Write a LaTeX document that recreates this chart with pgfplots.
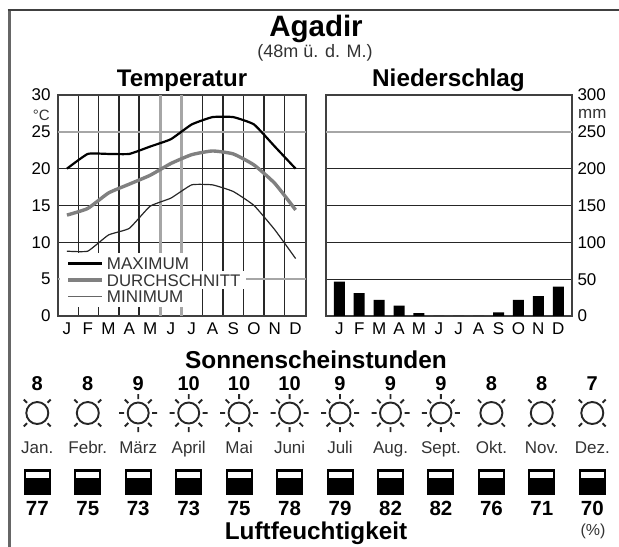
\documentclass[border=0pt]{standalone}
\usepackage{fontspec}
\setmainfont{Liberation Sans}
\usepackage{pgfplots}
\pgfplotsset{compat=1.18}
\newcommand{\fs}[1]{\fontsize{#1bp}{#1bp}\selectfont}
\pgfdeclareplotmark{sunA}{%
  \pgfpathcircle{\pgfpointorigin}{11bp}%
  \foreach \a in {45,135,225,315}{%
    \pgfpathmoveto{\pgfpointpolar{\a}{14.5bp}}\pgfpathlineto{\pgfpointpolar{\a}{19bp}}}%
  \pgfusepathqstroke}
\pgfdeclareplotmark{sunB}{%
  \pgfpathcircle{\pgfpointorigin}{10.5bp}%
  \foreach \a in {0,45,...,315}{%
    \pgfpathmoveto{\pgfpointpolar{\a}{14bp}}\pgfpathlineto{\pgfpointpolar{\a}{19bp}}}%
  \pgfusepathqstroke}
\pgfdeclareplotmark{humbox}{%
  \pgfsetfillcolor{black}%
  \pgfpathrectanglecorners{\pgfpoint{-13.5bp}{-13bp}}{\pgfpoint{13.5bp}{13bp}}%
  \pgfusepathqfill
  \pgfsetfillcolor{white}%
  \pgfpathrectanglecorners{\pgfpoint{-11.5bp}{4bp}}{\pgfpoint{11.5bp}{10.5bp}}%
  \pgfusepathqfill}
\begin{document}
\begin{tikzpicture}
\useasboundingbox (0,0) rectangle (619bp,547bp);
\pgfplotsset{
  panel/.style={
    scale only axis, anchor=south west,
    height=221bp, ymin=0,
    axis line style={black!75,line width=2.2bp},
    tick style={draw=none}, major tick length=0pt, minor tick length=0pt,
    ymajorgrids, major grid style={black!85,line width=1.3bp},
    tick label style={font=\fs{17}},
    /pgf/number format/assume math mode=true,
    xtick={0,...,11},
    xticklabels={J,F,M,A,M,J,J,A,S,O,N,D},
    xticklabel style={yshift=-3bp},
    clip=false,
  }}
% Temperatur
\begin{axis}[panel, at={(58bp,231bp)}, width=248bp,
  xmin=-0.43, xmax=11.5, ymax=30,
  ytick={0,10,15,20,30},
  extra y ticks={5,25},
  extra y tick style={major grid style={black!35,line width=2.5bp}},
  yticklabel style={xshift=-4bp},
  minor xtick={0.54,1.53,2.5,3.47,6.51,7.5,8.49,9.48,10.47},
  xminorgrids, minor grid style={black!85,line width=1.3bp},
]
\addplot[black!35,line width=2.5bp] coordinates {(4.5,0)(4.5,30)};
\addplot[black!35,line width=2.5bp] coordinates {(5.5,0)(5.5,30)};
\addplot[black,line width=2.2bp,smooth,tension=0.25] coordinates {
 (0,20)(1,22)(2,22)(3,22)(4,23)(5,24)(6,26)(7,27)(8,27)(9,26)(10,23)(11,20)};
\addplot[black!50,line width=3.4bp,smooth,tension=0.3] coordinates {
 (0,13.7)(1,14.6)(2,16.7)(3,17.9)(4,19.1)(5,20.7)(6,21.9)(7,22.4)(8,22)(9,20.5)(10,18)(11,14.4)};
\addplot[black!85,line width=1.2bp,smooth,tension=0.25] coordinates {
 (0,8.8)(1,8.8)(2,11)(3,11.9)(4,14.9)(5,16)(6,17.8)(7,17.8)(8,16.9)(9,15)(10,11.7)(11,7.8)};
\end{axis}
% Niederschlag
\begin{axis}[panel, at={(326bp,231bp)}, width=246bp,
  xmin=-0.668, xmax=11.69, ymax=300,
  ytick={0,50,100,150,200,300},
  extra y ticks={250},
  extra y tick style={major grid style={black!35,line width=2.5bp}},
  yticklabel pos=right,
  yticklabel style={xshift=2bp},
]
\addplot[ybar,bar width=11bp,fill=black,draw=none,bar shift=0pt] coordinates {
 (0,46.6)(1,31)(2,22)(3,14)(4,4)(5,0)(6,0)(7,0)(8,5)(9,22)(10,27)(11,40)};
\end{axis}
% Layout in pixels
\begin{axis}[at={(0,0)},anchor=south west,scale only axis,width=619bp,height=547bp,
  xmin=0,xmax=619,ymin=0,ymax=547,y dir=reverse,axis lines=none,clip=false]
\draw[black!60,line width=3bp] (axis cs:9,547)--(axis cs:9,10);
\draw[black!75,line width=2.2bp] (axis cs:7.5,10)--(axis cs:619,10);
\fill[white] (axis cs:62,253) rectangle (axis cs:190,271);
\fill[white] (axis cs:60,271) rectangle (axis cs:246,289);
\fill[white] (axis cs:62,289) rectangle (axis cs:184,307);
\draw[black,line width=2.4bp] (axis cs:68.3,263.3)--(axis cs:101.7,263.3);
\draw[black!50,line width=3.4bp] (axis cs:68.3,280)--(axis cs:101.7,280);
\draw[black!60,line width=1.4bp] (axis cs:68.3,296.7)--(axis cs:101.7,296.7);
\node[anchor=base west,inner sep=0,font=\fs{17},text=black!80] at (axis cs:106.7,269) {MAXIMUM};
\node[anchor=base west,inner sep=0,font=\fs{16.8},text=black!80] at (axis cs:106.7,286) {DURCHSCHNITT};
\node[anchor=base west,inner sep=0,font=\fs{17},text=black!80] at (axis cs:106.7,302) {MINIMUM};
\node[anchor=base,inner sep=0,font=\fs{29.5}\bfseries] at (axis cs:316,37) {Agadir};
\node[anchor=base,inner sep=0,font=\fs{18},text=black!80] at (axis cs:315,58) {(48m ü. d. M.)};
\node[anchor=base,inner sep=0,font=\fs{24}\bfseries] at (axis cs:182,87) {Temperatur};
\node[anchor=base,inner sep=0,font=\fs{24.3}\bfseries] at (axis cs:448.5,87) {Niederschlag};
\node[anchor=base,inner sep=0,font=\fs{24.4}\bfseries] at (axis cs:316,368) {Sonnenscheinstunden};
\node[anchor=base,inner sep=0,font=\fs{24.3}\bfseries] at (axis cs:316,539) {Luftfeuchtigkeit};
\node[anchor=base east,inner sep=0,font=\fs{15},text=black!80] at (axis cs:50,120) {°C};
\node[anchor=base west,inner sep=0,font=\fs{17},text=black!80] at (axis cs:578,118) {mm};
\node[anchor=base,inner sep=0,font=\fs{16},text=black!80] at (axis cs:593,535) {(\%)};
% Sonnenscheinstunden: values
\addplot[only marks,mark=none,nodes near coords,point meta=explicit symbolic,
  nodes near coords style={anchor=base,inner sep=0,font=\fs{20}\bfseries,text=black}] coordinates {
 (37.3,390)[8] (87.8,390)[8] (138.2,390)[9] (188.7,390)[10] (239.1,390)[10] (289.6,390)[10]
 (340,390)[9] (390.5,390)[9] (440.9,390)[9] (491.4,390)[8] (541.8,390)[8] (592.3,390)[7]};
% suns
\addplot[only marks,mark=sunA,mark options={draw=black!85,line width=1.9bp}] coordinates {
 (37.3,413)(87.8,413)(491.4,413)(541.8,413)(592.3,413)};
\addplot[only marks,mark=sunB,mark options={draw=black!85,line width=1.9bp}] coordinates {
 (138.2,413)(188.7,413)(239.1,413)(289.6,413)(340,413)(390.5,413)(440.9,413)};
% months
\addplot[only marks,mark=none,nodes near coords,point meta=explicit symbolic,
  nodes near coords style={anchor=base,inner sep=0,font=\fs{17},text=black!80}] coordinates {
 (37.3,453)[Jan.] (87.8,453)[Febr.] (138.2,453)[März] (188.7,453)[April] (239.1,453)[Mai] (289.6,453)[Juni]
 (340,453)[Juli] (390.5,453)[Aug.] (440.9,453)[Sept.] (491.4,453)[Okt.] (541.8,453)[Nov.] (592.3,453)[Dez.]};
% humidity boxes
\addplot[only marks,mark=humbox] coordinates {
 (37.3,482)(87.8,482)(138.2,482)(188.7,482)(239.1,482)(289.6,482)
 (340,482)(390.5,482)(440.9,482)(491.4,482)(541.8,482)(592.3,482)};
% humidity values
\addplot[only marks,mark=none,nodes near coords,point meta=explicit symbolic,
  nodes near coords style={anchor=base,inner sep=0,font=\fs{20.5}\bfseries,text=black}] coordinates {
 (37.3,515)[77] (87.8,515)[75] (138.2,515)[73] (188.7,515)[73] (239.1,515)[75] (289.6,515)[78]
 (340,515)[79] (390.5,515)[82] (440.9,515)[82] (491.4,515)[76] (541.8,515)[71] (592.3,515)[70]};
\end{axis}
\end{tikzpicture}
\end{document}
